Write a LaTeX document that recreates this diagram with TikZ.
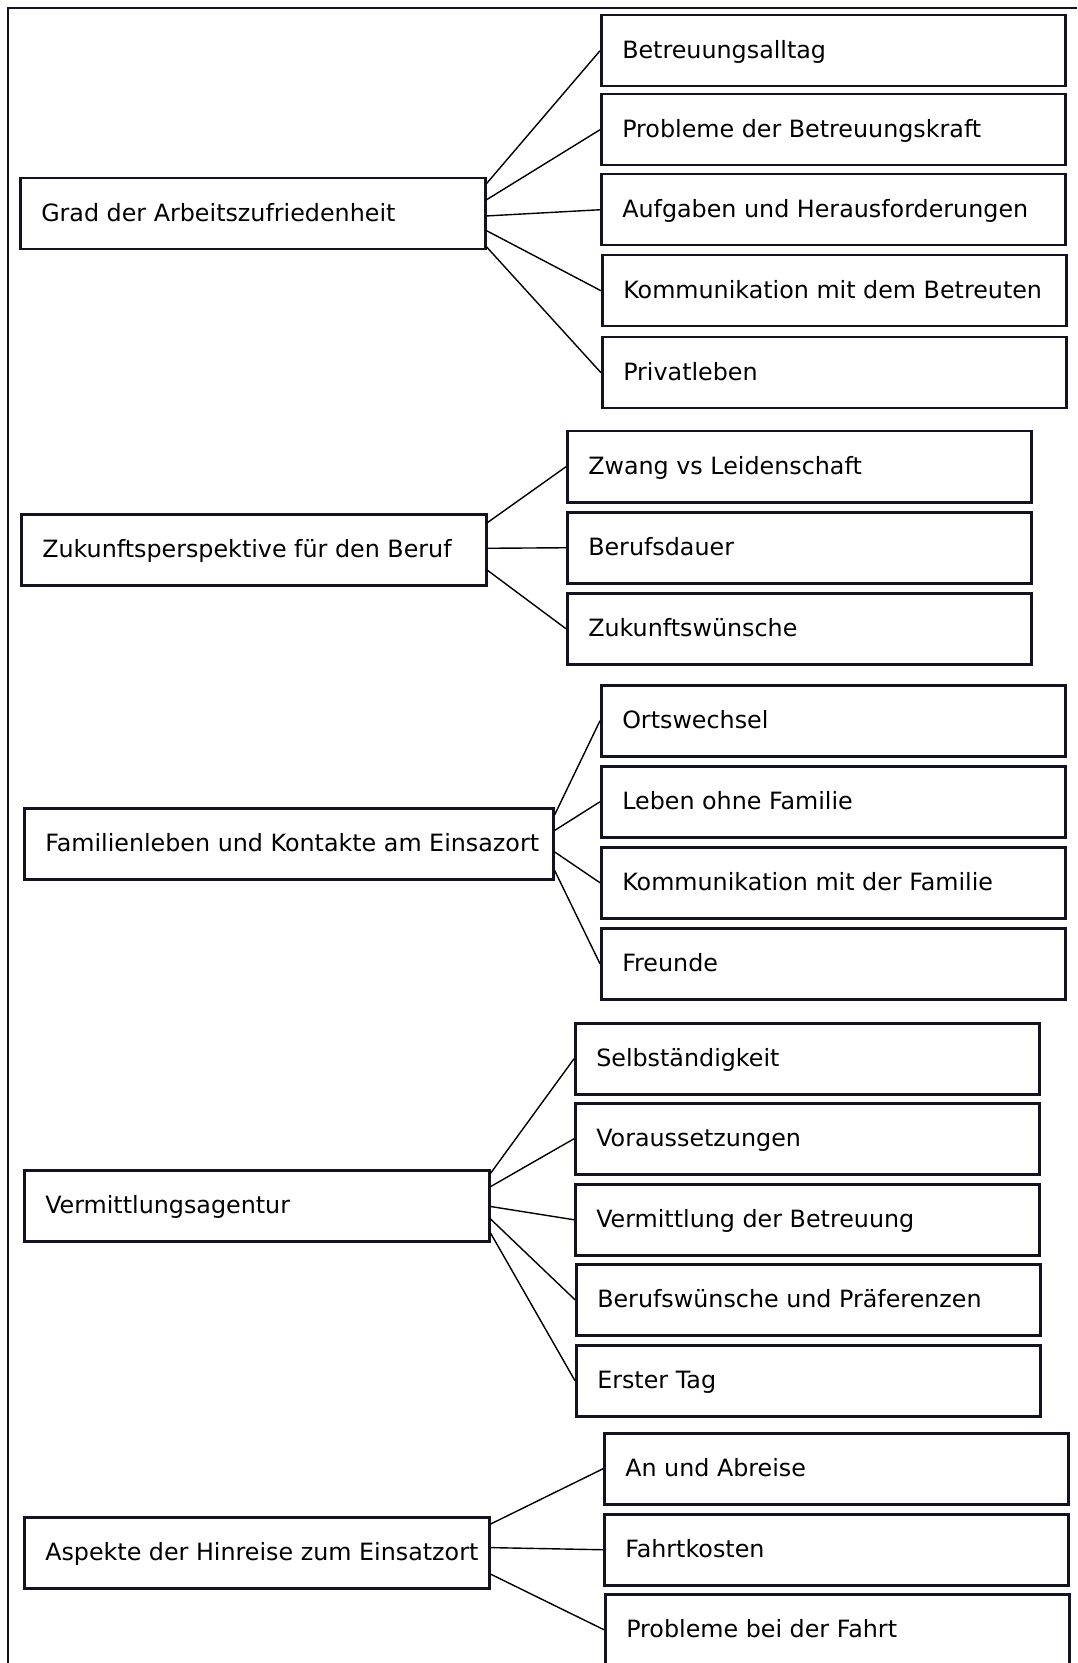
\documentclass[tikz,border=0pt]{standalone}
\usepackage{fontspec}
\setmainfont{DejaVu Sans}
\usetikzlibrary{calc}
\definecolor{boxc}{RGB}{18,18,32}
\tikzset{
  box/.style={draw=boxc, line width=1.25pt, anchor=north west, inner xsep=10.5pt, inner ysep=0pt,
    minimum height=35.5pt, font=\fontsize{11.9}{14}\selectfont},
  conn/.style={draw=black, line width=0.7pt},
  frame/.style={draw=boxc, line width=1.3pt}
}
\newcommand\bxnode[5]{\node[box] (#1) at (#2,#3) {\makebox[#4pt][l]{\rule[-3.2pt]{0pt}{14pt}#5}};}
\newcommand\lnk[3]{\draw[conn] ($(#1.north east)!#2!(#1.south east)$) -- (#3.west);}
\begin{document}
\begin{tikzpicture}[x=0.5pt,y=-0.5pt]
\useasboundingbox (0,0) rectangle (1077,1663);
\draw[frame] (8,1663) -- (8,8) -- (1077,8);

% group 1
\bxnode{g1}{19}{177}{211.5}{Grad der Arbeitszufriedenheit}
\bxnode{c11}{600}{14}{211}{Betreuungsalltag}
\bxnode{c12}{600}{93}{211}{Probleme der Betreuungskraft}
\bxnode{c13}{600}{173}{211}{Aufgaben und Herausforderungen}
\bxnode{c14}{601}{254}{211}{Kommunikation mit dem Betreuten}
\bxnode{c15}{601}{336}{211}{Privatleben}
\lnk{g1}{0.09}{c11}
\lnk{g1}{0.31}{c12}
\lnk{g1}{0.53}{c13}
\lnk{g1}{0.73}{c14}
\lnk{g1}{0.95}{c15}

% group 2
\bxnode{g2}{20}{513}{211.5}{Zukunftsperspektive für den Beruf}
\bxnode{c21}{566}{430}{211}{Zwang vs Leidenschaft}
\bxnode{c22}{566}{511}{211}{Berufsdauer}
\bxnode{c23}{566}{592}{211}{Zukunftswünsche}
\lnk{g2}{0.13}{c21}
\lnk{g2}{0.48}{c22}
\lnk{g2}{0.78}{c23}

% group 3
\bxnode{g3}{23}{807}{243.5}{Familienleben und Kontakte am Einsazort}
\bxnode{c31}{600}{684}{211}{Ortswechsel}
\bxnode{c32}{600}{765}{211}{Leben ohne Familie}
\bxnode{c33}{600}{846}{211}{Kommunikation mit der Familie}
\bxnode{c34}{600}{927}{211}{Freunde}
\lnk{g3}{0.11}{c31}
\lnk{g3}{0.32}{c32}
\lnk{g3}{0.61}{c33}
\lnk{g3}{0.86}{c34}

% group 4
\bxnode{g4}{23}{1169}{211.5}{Vermittlungsagentur}
\bxnode{c41}{574}{1022}{211}{Selbständigkeit}
\bxnode{c42}{574}{1102}{211}{Voraussetzungen}
\bxnode{c43}{574}{1183}{211}{Vermittlung der Betreuung}
\bxnode{c44}{575}{1263}{211}{Berufswünsche und Präferenzen}
\bxnode{c45}{575}{1344}{211}{Erster Tag}
\lnk{g4}{0.06}{c41}
\lnk{g4}{0.24}{c42}
\lnk{g4}{0.51}{c43}
\lnk{g4}{0.68}{c44}
\lnk{g4}{0.87}{c45}

% group 5
\bxnode{g5}{23}{1516}{211.5}{Aspekte der Hinreise zum Einsatzort}
\bxnode{c51}{603}{1432}{211}{An und Abreise}
\bxnode{c52}{603}{1513}{211}{Fahrtkosten}
\bxnode{c53}{604}{1593}{211}{Probleme bei der Fahrt}
\lnk{g5}{0.11}{c51}
\lnk{g5}{0.43}{c52}
\lnk{g5}{0.79}{c53}
\end{tikzpicture}
\end{document}
